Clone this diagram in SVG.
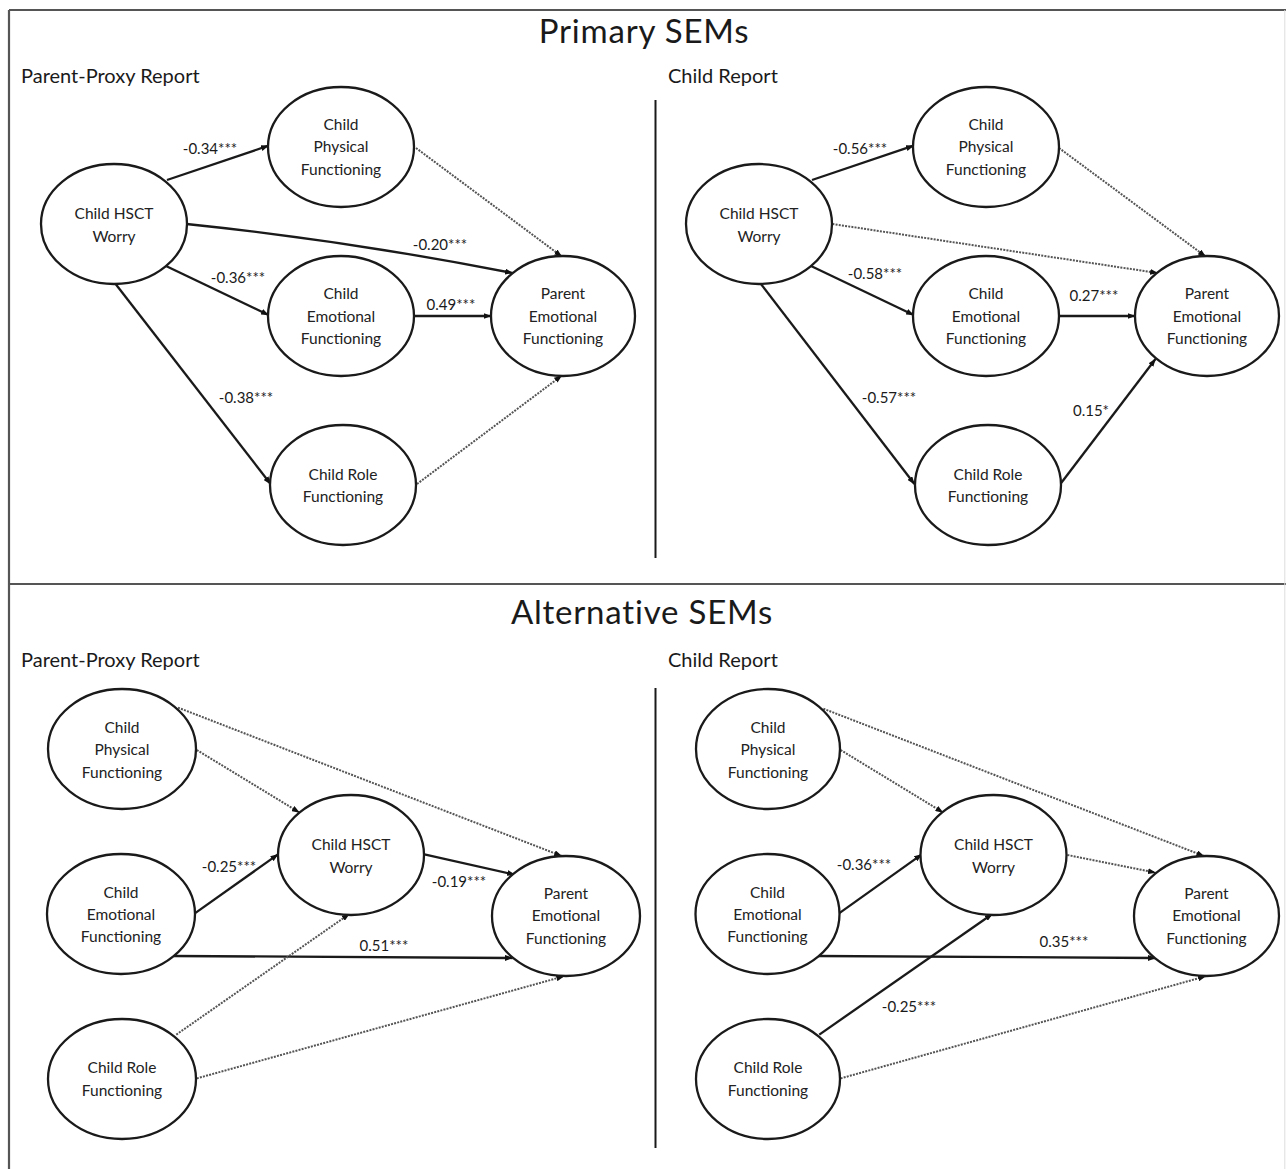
<svg xmlns="http://www.w3.org/2000/svg" width="1286" height="1169" viewBox="0 0 1286 1169">
<defs>
<marker id="ah" viewBox="0 0 8 6" refX="7.5" refY="3" markerWidth="8" markerHeight="6" markerUnits="userSpaceOnUse" orient="auto">
<path d="M0,0 L8,3 L0,6 z" fill="#111"/>
</marker>
<style>
.node ellipse{fill:#fff;stroke:#1a1a1a;stroke-width:2.3}
.node text, .lbl{font-family:Lato,"Liberation Sans",sans-serif;font-size:15.5px;fill:#222;text-anchor:middle}
.lbl{font-size:15px;fill:#1a1a1a}
.title{font-family:Lato,"Liberation Sans",sans-serif;font-size:33px;letter-spacing:0.8px;fill:#1a1a1a;text-anchor:middle}
.sub{font-family:Lato,"Liberation Sans",sans-serif;font-size:20px;fill:#1a1a1a}
.s{fill:none;stroke:#1a1a1a;stroke-width:2.3;marker-end:url(#ah)}
.d{fill:none;stroke:#555;stroke-width:2;stroke-dasharray:2 1.2;marker-end:url(#ah)}
.frame{stroke:#555;stroke-width:2.2;fill:none}
</style>
</defs>
<rect width="1286" height="1169" fill="#fff"/>
<g id="frame">
<line class="frame" x1="9" y1="10" x2="1286" y2="10"/>
<line class="frame" x1="9" y1="10" x2="9" y2="1169"/>
<line class="frame" x1="9" y1="584" x2="1286" y2="584"/>
<line x1="1284.8" y1="10" x2="1284.8" y2="1169" stroke="#ddd" stroke-width="1"/>
<line x1="655.5" y1="100" x2="655.5" y2="558" stroke="#1a1a1a" stroke-width="2"/>
<line x1="655.5" y1="688" x2="655.5" y2="1148" stroke="#1a1a1a" stroke-width="2"/>
</g>
<g id="headings">
<text class="title" x="644" y="43">Primary SEMs</text>
<text class="title" x="642" y="624">Alternative SEMs</text>
<text class="sub" x="21" y="83">Parent-Proxy Report</text>
<text class="sub" x="668" y="83">Child Report</text>
<text class="sub" x="21" y="667">Parent-Proxy Report</text>
<text class="sub" x="668" y="667">Child Report</text>
</g>
<g id="connectors">
<!-- top-left -->
<line class="s" x1="167" y1="180" x2="268.5" y2="145.7"/>
<path class="s" d="M186.5,224 Q350,241 512.5,273"/>
<line class="s" x1="166" y1="266" x2="268.5" y2="315"/>
<line class="s" x1="414" y1="316" x2="491" y2="316"/>
<line class="s" x1="115.6" y1="284" x2="270.6" y2="484"/>
<line class="d" x1="416" y1="148" x2="561.7" y2="256.4"/>
<line class="d" x1="417" y1="484" x2="561.7" y2="375.7"/>
<!-- top-right -->
<line class="s" x1="812" y1="180" x2="913.6" y2="145.7"/>
<line class="d" x1="832.4" y1="224" x2="1157.6" y2="273"/>
<line class="s" x1="811" y1="266" x2="913.6" y2="315"/>
<line class="s" x1="1058" y1="316" x2="1135" y2="316"/>
<line class="s" x1="761" y1="284" x2="914.4" y2="484"/>
<line class="d" x1="1059" y1="148" x2="1205.5" y2="256.4"/>
<line class="s" x1="1060.4" y1="484" x2="1155.5" y2="359"/>
<!-- bottom-left -->
<line class="d" x1="178" y1="707.6" x2="561.7" y2="856"/>
<line class="d" x1="196.8" y1="750" x2="299.3" y2="812.4"/>
<line class="s" x1="194.8" y1="913.4" x2="278" y2="854.4"/>
<line class="s" x1="424.4" y1="854.4" x2="514.6" y2="874.6"/>
<line class="s" x1="174" y1="956" x2="512.5" y2="958"/>
<line class="d" x1="176.3" y1="1034.6" x2="349.3" y2="914"/>
<line class="d" x1="196.8" y1="1078.4" x2="563.8" y2="976.3"/>
<!-- bottom-right -->
<line class="d" x1="823.4" y1="708.7" x2="1203.9" y2="856"/>
<line class="d" x1="840.6" y1="750" x2="943" y2="812.4"/>
<line class="s" x1="839" y1="913.4" x2="921.8" y2="854.4"/>
<line class="d" x1="1067.4" y1="855" x2="1155.5" y2="872.6"/>
<line class="s" x1="817" y1="956" x2="1155.5" y2="958"/>
<line class="s" x1="819.3" y1="1034.6" x2="992.3" y2="914"/>
<line class="d" x1="840.6" y1="1078.4" x2="1205.5" y2="976.3"/>
</g>
<g id="labels">
<text class="lbl" x="210" y="154">-0.34***</text>
<text class="lbl" x="440" y="250">-0.20***</text>
<text class="lbl" x="238" y="283">-0.36***</text>
<text class="lbl" x="451" y="310">0.49***</text>
<text class="lbl" x="246" y="403">-0.38***</text>
<text class="lbl" x="860" y="154">-0.56***</text>
<text class="lbl" x="875" y="279">-0.58***</text>
<text class="lbl" x="1094" y="301">0.27***</text>
<text class="lbl" x="889" y="403">-0.57***</text>
<text class="lbl" x="1091" y="416">0.15*</text>
<text class="lbl" x="229" y="872">-0.25***</text>
<text class="lbl" x="459" y="887">-0.19***</text>
<text class="lbl" x="384" y="951">0.51***</text>
<text class="lbl" x="864" y="870">-0.36***</text>
<text class="lbl" x="1064" y="947">0.35***</text>
<text class="lbl" x="909" y="1012">-0.25***</text>
</g>
<!-- Primary, Parent-Proxy -->
<g id="p1-worry" class="node"><ellipse cx="114" cy="224" rx="73" ry="60"/><text x="114" y="218.5">Child HSCT</text><text x="114" y="241.5">Worry</text></g>
<g id="p1-physical" class="node"><ellipse cx="341" cy="147" rx="73" ry="60"/><text x="341" y="129.5">Child</text><text x="341" y="152">Physical</text><text x="341" y="175">Functioning</text></g>
<g id="p1-emotional" class="node"><ellipse cx="341" cy="316" rx="73" ry="60"/><text x="341" y="298.5">Child</text><text x="341" y="321.5">Emotional</text><text x="341" y="344">Functioning</text></g>
<g id="p1-role" class="node"><ellipse cx="343" cy="485" rx="73" ry="60"/><text x="343" y="479.5">Child Role</text><text x="343" y="501.5">Functioning</text></g>
<g id="p1-parent" class="node"><ellipse cx="563" cy="316" rx="72" ry="60"/><text x="563" y="298.5">Parent</text><text x="563" y="321.5">Emotional</text><text x="563" y="344">Functioning</text></g>
<!-- Primary, Child -->
<g id="p2-worry" class="node"><ellipse cx="759" cy="224" rx="73" ry="60"/><text x="759" y="218.5">Child HSCT</text><text x="759" y="241.5">Worry</text></g>
<g id="p2-physical" class="node"><ellipse cx="986" cy="147" rx="73" ry="60"/><text x="986" y="129.5">Child</text><text x="986" y="152">Physical</text><text x="986" y="175">Functioning</text></g>
<g id="p2-emotional" class="node"><ellipse cx="986" cy="316" rx="73" ry="60"/><text x="986" y="298.5">Child</text><text x="986" y="321.5">Emotional</text><text x="986" y="344">Functioning</text></g>
<g id="p2-role" class="node"><ellipse cx="988" cy="485" rx="73" ry="60"/><text x="988" y="479.5">Child Role</text><text x="988" y="501.5">Functioning</text></g>
<g id="p2-parent" class="node"><ellipse cx="1207" cy="316" rx="72" ry="60"/><text x="1207" y="298.5">Parent</text><text x="1207" y="321.5">Emotional</text><text x="1207" y="344">Functioning</text></g>
<!-- Alternative, Parent-Proxy -->
<g id="a1-physical" class="node"><ellipse cx="122" cy="749" rx="74" ry="60"/><text x="122" y="732.5">Child</text><text x="122" y="755">Physical</text><text x="122" y="778">Functioning</text></g>
<g id="a1-emotional" class="node"><ellipse cx="121" cy="914" rx="74" ry="60"/><text x="121" y="897.5">Child</text><text x="121" y="919.5">Emotional</text><text x="121" y="942">Functioning</text></g>
<g id="a1-role" class="node"><ellipse cx="122" cy="1079" rx="74" ry="60"/><text x="122" y="1072.5">Child Role</text><text x="122" y="1095.5">Functioning</text></g>
<g id="a1-worry" class="node"><ellipse cx="351" cy="855" rx="73" ry="60"/><text x="351" y="849.5">Child HSCT</text><text x="351" y="872.5">Worry</text></g>
<g id="a1-parent" class="node"><ellipse cx="566" cy="916" rx="74" ry="60"/><text x="566" y="898.5">Parent</text><text x="566" y="920.5">Emotional</text><text x="566" y="943.5">Functioning</text></g>
<!-- Alternative, Child -->
<g id="a2-physical" class="node"><ellipse cx="768" cy="749" rx="72" ry="60"/><text x="768" y="732.5">Child</text><text x="768" y="755">Physical</text><text x="768" y="778">Functioning</text></g>
<g id="a2-emotional" class="node"><ellipse cx="767.5" cy="914" rx="72" ry="60"/><text x="767.5" y="897.5">Child</text><text x="767.5" y="919.5">Emotional</text><text x="767.5" y="942">Functioning</text></g>
<g id="a2-role" class="node"><ellipse cx="768" cy="1079" rx="72" ry="60"/><text x="768" y="1072.5">Child Role</text><text x="768" y="1095.5">Functioning</text></g>
<g id="a2-worry" class="node"><ellipse cx="993.5" cy="855" rx="73" ry="60"/><text x="993.5" y="849.5">Child HSCT</text><text x="993.5" y="872.5">Worry</text></g>
<g id="a2-parent" class="node"><ellipse cx="1206.5" cy="916" rx="72.5" ry="60"/><text x="1206.5" y="898.5">Parent</text><text x="1206.5" y="920.5">Emotional</text><text x="1206.5" y="943.5">Functioning</text></g>
</svg>
